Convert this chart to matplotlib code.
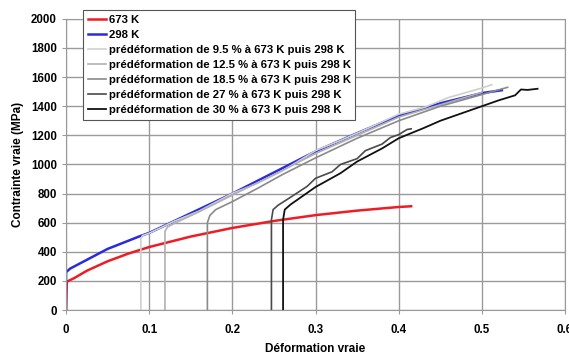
import matplotlib.pyplot as plt

plt.rcParams['font.family'] = ['Liberation Sans', 'DejaVu Sans']
plt.rcParams['font.weight'] = 'bold'

# 673 K
x_673 = [0, 0.001, 0.01, 0.025, 0.05, 0.075, 0.1, 0.15, 0.2, 0.25, 0.3, 0.35, 0.4, 0.415]
y_673 = [0, 195, 220, 270, 335, 388, 433, 505, 564, 612, 652, 683, 708, 713]

# 298 K
x_298 = [0, 0, 0.005, 0.02, 0.05, 0.09, 0.1, 0.15, 0.2, 0.25, 0.3, 0.35, 0.4, 0.45, 0.5, 0.524]
y_298 = [0, 260, 285, 330, 420, 510, 530, 665, 800, 945, 1090, 1215, 1335, 1420, 1490, 1510]

# prestrain curves
x_95 = [0.09, 0.09, 0.092, 0.1, 0.13, 0.16, 0.2, 0.23, 0.26, 0.3, 0.33, 0.36, 0.4, 0.43, 0.46, 0.5, 0.512]
y_95 = [0, 490, 512, 528, 610, 680, 802, 870, 955, 1095, 1165, 1240, 1345, 1390, 1460, 1525, 1548]

x_125 = [0.119, 0.119, 0.122, 0.13, 0.16, 0.2, 0.25, 0.3, 0.35, 0.4, 0.45, 0.5]
y_125 = [0, 540, 570, 595, 675, 790, 930, 1075, 1200, 1325, 1410, 1495]

x_185 = [0.17, 0.17, 0.173, 0.18, 0.2, 0.23, 0.26, 0.3, 0.35, 0.4, 0.45, 0.5, 0.531]
y_185 = [0, 600, 650, 690, 745, 835, 930, 1045, 1180, 1300, 1400, 1480, 1530]

x_27 = [0.247, 0.247, 0.249, 0.255, 0.27, 0.29, 0.3, 0.32, 0.33, 0.35, 0.36, 0.38, 0.39, 0.4, 0.41, 0.415]
y_27 = [0, 620, 690, 720, 775, 850, 905, 950, 1000, 1040, 1095, 1140, 1185, 1205, 1240, 1245]

x_30 = [0.261, 0.261, 0.263, 0.27, 0.3, 0.33, 0.35, 0.38, 0.4, 0.43, 0.45, 0.48, 0.5, 0.52, 0.54, 0.547, 0.555, 0.567]
y_30 = [0, 620, 690, 725, 845, 940, 1020, 1110, 1180, 1250, 1300, 1360, 1400, 1440, 1475, 1515, 1512, 1520]

fig = plt.figure(figsize=(5.69, 3.56), dpi=100)
ax = fig.add_axes([0.116, 0.129, 0.877, 0.818])

ax.plot(x_673, y_673, color='#ee1c25', lw=1.8, label='673 K')
ax.plot(x_298, y_298, color='#2a2ae0', lw=1.8, label='298 K')
ax.plot(x_95, y_95, color='#cfcfcf', lw=1.2,
        label='prédéformation de 9.5 % à 673 K puis 298 K')
ax.plot(x_125, y_125, color='#b0b0b0', lw=1.2,
        label='prédéformation de 12.5 % à 673 K puis 298 K')
ax.plot(x_185, y_185, color='#8a8a8a', lw=1.2,
        label='prédéformation de 18.5 % à 673 K puis 298 K')
ax.plot(x_27, y_27, color='#4a4a4a', lw=1.2,
        label='prédéformation de 27 % à 673 K puis 298 K')
ax.plot(x_30, y_30, color='#111111', lw=1.3,
        label='prédéformation de 30 % à 673 K puis 298 K')

ax.set_xlim(0, 0.6)
ax.set_ylim(0, 2000)
ax.set_xticks([0, 0.1, 0.2, 0.3, 0.4, 0.5, 0.6])
ax.set_xticklabels(['0', '0.1', '0.2', '0.3', '0.4', '0.5', '0.6'])
ax.set_yticks(range(0, 2001, 200))
ax.grid(True, color='#9a9a9a', lw=1)
ax.set_axisbelow(True)
for s in ax.spines.values():
    s.set_color('#9a9a9a')
ax.tick_params(labelsize=8.3, color='#9a9a9a', length=3)
ax.tick_params(axis='x', pad=7)

ax.set_xlabel('Déformation vraie', fontsize=8.5, fontweight='bold', labelpad=5)
ax.set_ylabel('Contrainte vraie (MPa)', fontsize=8.5, fontweight='bold', labelpad=5)

leg = ax.legend(loc='upper left', bbox_to_anchor=(0.146, 0.972),
                bbox_transform=fig.transFigure, borderaxespad=0,
                fontsize=8.2, frameon=True, fancybox=False, framealpha=1,
                handlelength=1.6, handletextpad=0.25, labelspacing=0.45,
                borderpad=0.4)
leg.get_frame().set_edgecolor('#555555')
leg.get_frame().set_linewidth(0.8)

fig.savefig('out.png', dpi=100)
